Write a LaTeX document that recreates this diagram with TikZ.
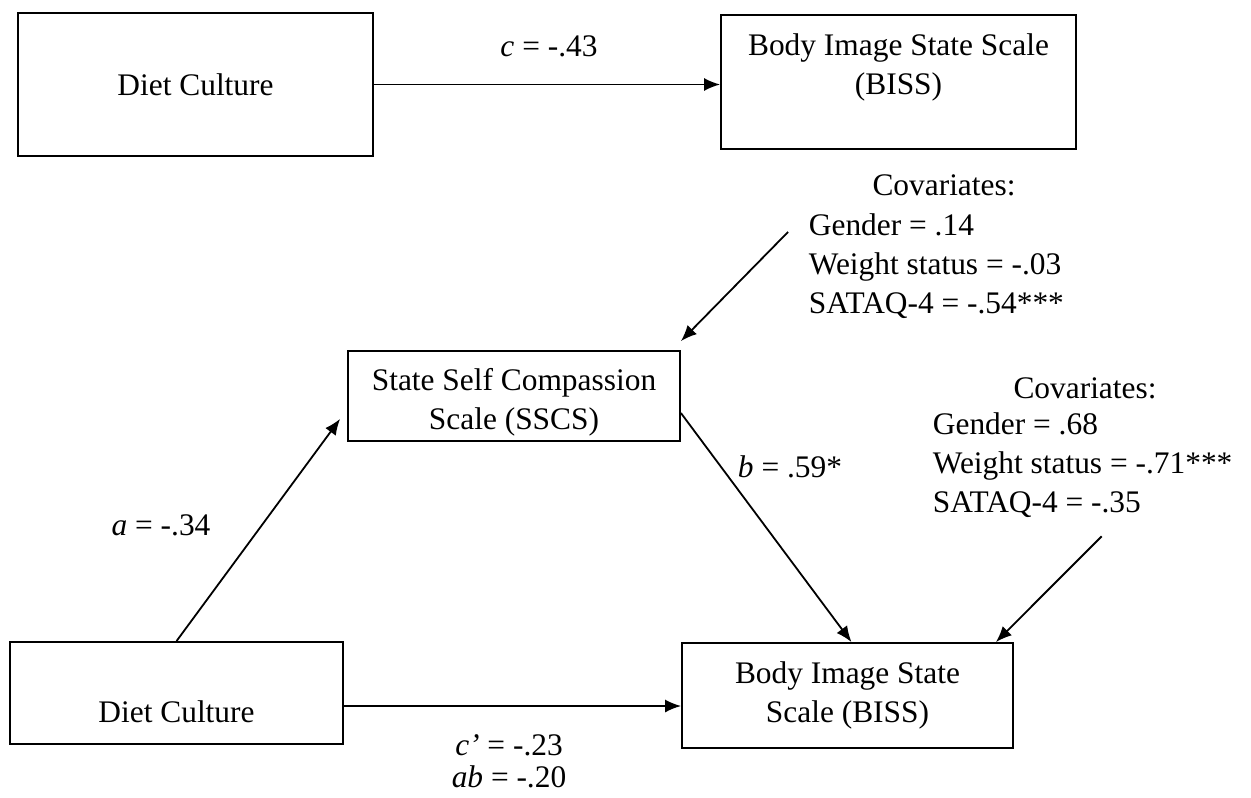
\documentclass[tikz,border=0pt]{standalone}
\usepackage{fontspec}
\setmainfont{Liberation Serif}
\usetikzlibrary{arrows.meta,positioning}

\begin{document}
\begin{tikzpicture}
[ x=0.5pt, y=-0.5pt, line width=0.9pt, font=\fontsize{15.7}{19.5}\selectfont
, box/.style={rectangle, draw, inner sep=0pt, align=center}
, plain/.style={inner sep=0pt, align=center}
, covlist/.style={inner sep=0pt, align=left, anchor=west}
, link/.style={-{Latex[length=8pt,width=6.5pt]}}
]
\useasboundingbox (0,0) rectangle (1251,797);
% Total effect:
\node (dietTop) [box, minimum width=177.5pt, minimum height=71.5pt] at (195.5,84.5) {Diet Culture};
\node (bissTop) [box, minimum width=177.5pt, minimum height=67pt] at (898.5,82) {};
\node (bissTopText) [plain] at (898.5,67) {Body Image State Scale\\(BISS)};
\node (cLab) [plain] at (549,46) {\textit{c} = -.43};
% Mediation model:
\node (sscs) [box, minimum width=166pt, minimum height=45pt] at (514,396) {};
\node (sscsText) [plain] at (514,402) {State Self Compassion\\Scale (SSCS)};
\node (dietBot) [box, minimum width=166.5pt, minimum height=51pt] at (176.5,693) {};
\node (dietBotText) [plain] at (176.5,712) {Diet Culture};
\node (bissBot) [box, minimum width=165.5pt, minimum height=52.5pt] at (847.5,695.5) {Body Image State\\Scale (BISS)};
% Covariates:
\node (cov1Head) [plain] at (944,185) {Covariates:};
\node (cov1) [covlist] at (808,266) {Gender = .14\\Weight status = -.03\\SATAQ-4 = -.54***};
\node (cov2Head) [plain] at (1085,388) {Covariates:};
\node (cov2) [covlist] at (932,465) {Gender = .68\\Weight status = -.71***\\SATAQ-4 = -.35};
% Path labels:
\node (aLab) [plain] at (161,525) {\textit{a} = -.34};
\node (bLab) [plain] at (790,467) {\textit{b} = .59*};
\node (cpLab) [plain] at (509,745) {\textit{c’} = -.23};
\node (abLab) [plain] at (509,777) {\textit{ab} = -.20};
% Paths:
\draw [link] (dietTop.east) -- (dietTop.east -| bissTop.west);
\draw [link] (dietBot.north) -- ([xshift=-3.5pt,yshift=11.5pt]sscs.south west);
\draw [link] ([yshift=-8.5pt]sscs.east) -- ([xshift=2pt]bissBot.north);
\draw [link] ([yshift=-6.5pt]dietBot.east) -- ([yshift=-6.5pt]dietBot.east -| bissBot.west);
\draw [link] ([xshift=-10pt,yshift=17pt]cov1.west) -- ([yshift=4.5pt]sscs.north east);
\draw [link] ([xshift=9.5pt,yshift=-9pt]cov2.south) -- ([xshift=-9pt]bissBot.north east);
\end{tikzpicture}
\end{document}
